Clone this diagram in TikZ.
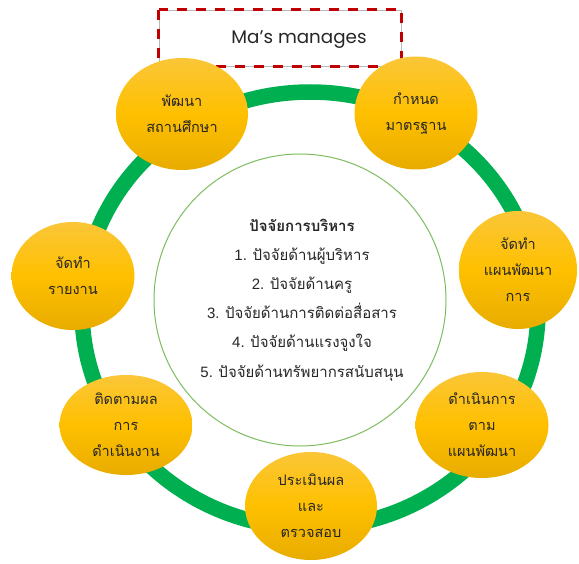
\documentclass[tikz,border=0pt]{standalone}
\usepackage{fontspec}
\setmainfont{Liberation Sans}
\newfontfamily\thai[Script=Thai]{Loma}
\newfontfamily\gothic{Poppins}
\usetikzlibrary{shapes.geometric}
\definecolor{ringgreen}{RGB}{0,176,80}
\definecolor{thingreen}{RGB}{125,188,95}
\definecolor{boxred}{RGB}{192,0,0}
\definecolor{orangetop}{RGB}{250,198,56}
\definecolor{orangemid}{RGB}{255,192,0}
\definecolor{orangebot}{RGB}{232,172,0}
\definecolor{txt}{RGB}{38,38,38}
\begin{document}
\begin{tikzpicture}[x=1pt,y=-1pt,
  orb/.style={ellipse, inner sep=0pt, top color=orangetop, bottom color=orangebot, middle color=orangemid, align=center, font=\fontsize{14.5}{26}\thai, text=txt}]
\useasboundingbox (0,0) rectangle (579,564);
% big ring
\draw[ringgreen, line width=15.5pt] (310,310) ellipse [x radius=228, y radius=218];
% inner thin circle
\draw[thingreen, line width=1pt] (300,300) circle [radius=146];
% title box
\node[draw=gray!55, line width=0.6pt, minimum width=242, minimum height=56, inner sep=0pt] (box) at (280,38) {};
\draw[boxred, line width=2.8pt, dash pattern=on 10pt off 9pt] (box.north west) rectangle (box.south east);
\node[font=\fontsize{18.3}{22}\gothic, text=txt] (title) at (299,40) {Ma’s manages};
% orange circles
\node[orb, minimum width=132, minimum height=112] (c1) at (182,114) {พัฒนา\\สถานศึกษา};
\node[orb, minimum width=123, minimum height=113] (c2) at (416,113) {กำหนด\\มาตรฐาน};
\node[orb, minimum width=118, minimum height=118] (c3) at (518,270) {จัดทำ\\แผนพัฒนา\\การ};
\node[orb, minimum width=133, minimum height=106] (c4) at (482,425) {ดำเนินการ\\ตาม\\แผนพัฒนา};
\node[orb, minimum width=132, minimum height=108] (c5) at (311,506) {ประเมินผล\\และ\\ตรวจสอบ};
\node[orb, minimum width=133, minimum height=100] (c6) at (126,425) {ติดตามผล\\การ\\ดำเนินงาน};
\node[orb, minimum width=123, minimum height=108] (c7) at (73,276) {จัดทำ\\รายงาน};
% center text
\node[align=center, font=\fontsize{15}{29.2}\selectfont, text=txt] (factors) at (302,300)
  {{\thai\bfseries ปัจจัยการบริหาร}\\
   1. {\thai ปัจจัยด้านผู้บริหาร}\\
   2. {\thai ปัจจัยด้านครู}\\
   3. {\thai ปัจจัยด้านการติดต่อสื่อสาร}\\
   4. {\thai ปัจจัยด้านแรงจูงใจ}\\
   5. {\thai ปัจจัยด้านทรัพยากรสนับสนุน}};
\end{tikzpicture}
\end{document}
